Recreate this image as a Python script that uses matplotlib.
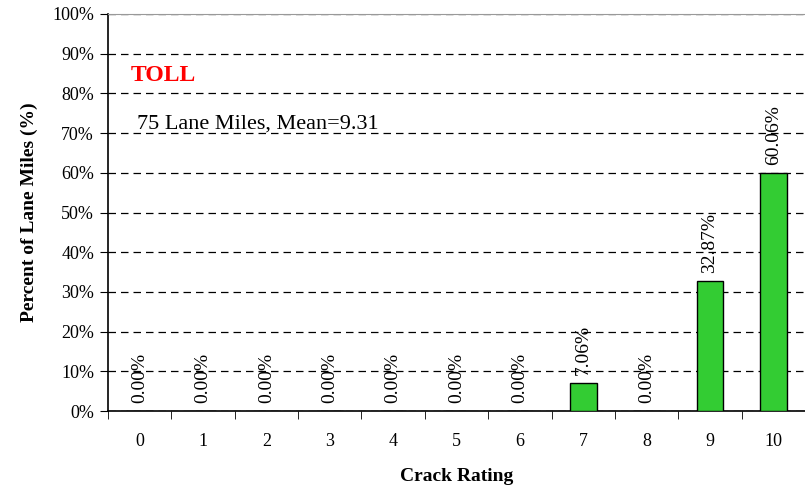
import numpy as np
import matplotlib.pyplot as plt

ratings = ['0', '1', '2', '3', '4', '5', '6', '7', '8', '9', '10']
percents = [0.0, 0.0, 0.0, 0.0, 0.0, 0.0, 0.0, 7.06, 0.0, 32.87, 60.06]
title_text = 'TOLL'
note_text = '75 Lane Miles, Mean=9.31'

plt.rcParams['font.family'] = ['Liberation Serif', 'DejaVu Serif']

fig = plt.figure(figsize=(8.05, 4.87), dpi=100)
ax = fig.add_axes([108/805, 1 - 411/487, 697/805, 397/487])

x = np.arange(len(ratings))
bars = ax.bar(x, percents, width=0.42, color='#33CC33', edgecolor='black', linewidth=1, zorder=3)

for xi, v in zip(x, percents):
    ax.text(xi, v + 2, f'{v:.2f}%', rotation=90, ha='center', va='bottom', fontsize=14)

ax.set_xlim(-0.5, len(ratings) - 0.5)
ax.set_ylim(0, 100)
ax.set_yticks(np.arange(0, 101, 10))
ax.set_yticklabels([f'{v}%' for v in range(0, 101, 10)], fontsize=13)
ax.set_xticks(x)
ax.set_xticklabels(ratings, fontsize=13)
ax.set_xticks(np.arange(-0.5, len(ratings), 1), minor=True)
ax.tick_params(axis='x', which='major', length=0, pad=16)
ax.tick_params(axis='x', which='minor', length=6, direction='out')
ax.tick_params(axis='y', length=6, direction='out', pad=4)

ax.yaxis.grid(True, linestyle=(0, (6, 4)), color='black', linewidth=0.9, zorder=0)
ax.set_axisbelow(True)

ax.spines['top'].set_color('#999999')
ax.spines['right'].set_visible(False)
ax.spines['left'].set_linewidth(1.2)
ax.spines['bottom'].set_linewidth(1.2)

ax.set_xlabel('Crack Rating', fontsize=14, fontweight='bold', labelpad=13)
ax.set_ylabel('Percent of Lane Miles (%)', fontsize=14, fontweight='bold', labelpad=10)

ax.text(0.033, 0.846, title_text, transform=ax.transAxes, color='red', fontsize=17,
        fontweight='bold', va='center', ha='left')
ax.text(0.0416, 0.723, note_text, transform=ax.transAxes, fontsize=16, va='center', ha='left')

fig.savefig('out.png', dpi=100)
